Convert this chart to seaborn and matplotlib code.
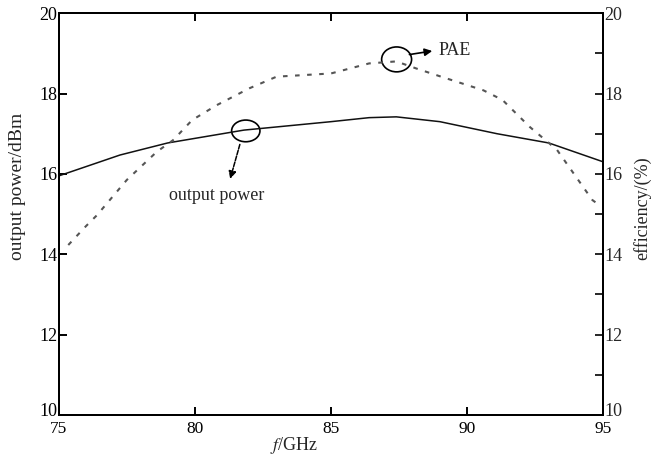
import numpy as np
import pandas as pd
import seaborn as sns
import matplotlib.pyplot as plt
import matplotlib.transforms as mtransforms
from matplotlib.patches import Ellipse
from matplotlib.ticker import MultipleLocator

# output power (dBm), left axis
freq_pout = [75.0, 77.25, 79.0, 81.8, 85.0, 86.4, 87.4, 89.0, 91.1, 93.0, 95.0]
pout = [15.95, 16.47, 16.77, 17.09, 17.3, 17.4, 17.42, 17.3, 17.0, 16.77, 16.3]

# PAE (%), right axis
freq_pae = [75.35, 76.0, 76.4, 77.5, 78.6, 79.2, 79.9, 80.8, 82.0, 83.0, 85.0,
            86.4, 87.4, 88.15, 89.0, 90.6, 91.3, 92.3, 93.3, 94.6, 94.9]
pae = [14.23, 14.7, 14.97, 15.85, 16.55, 16.84, 17.34, 17.71, 18.13, 18.42, 18.5,
       18.75, 18.8, 18.62, 18.43, 18.08, 17.84, 17.17, 16.6, 15.35, 15.2]

df_pout = pd.DataFrame({"f": freq_pout, "p": pout})
df_pae = pd.DataFrame({"f": freq_pae, "e": pae})

sns.set_style("ticks")
plt.rcParams['font.family'] = ['Liberation Serif', 'DejaVu Serif']
plt.rcParams['mathtext.fontset'] = 'stix'

fig = plt.figure(figsize=(6.6, 4.55), dpi=100)
ax = fig.add_axes([0.089, 0.088, 0.825, 0.883])
ax2 = ax.twinx()

sns.lineplot(data=df_pout, x="f", y="p", ax=ax, color="#111111", lw=1.1)
sns.lineplot(data=df_pae, x="f", y="e", ax=ax2, color="#555555", lw=1.5,
             linestyle=(0, (2.2, 3.6)))

ax.set_xlim(75, 95)
ax.set_ylim(10, 20)
ax2.set_ylim(10, 20)
ax.set_xticks([75, 80, 85, 90, 95])
ax.set_yticks([10, 12, 14, 16, 18, 20])
ax2.set_yticks([10, 12, 14, 16, 18, 20])
ax2.yaxis.set_minor_locator(MultipleLocator(1))

for a in (ax, ax2):
    for s in a.spines.values():
        s.set_linewidth(1.4)
        s.set_color("black")
ax.tick_params(axis="both", direction="in", length=6, width=1.4, labelsize=12.5,
               top=True, colors="black")
ax.tick_params(axis="x", pad=4)
ax.tick_params(axis="y", pad=1, labelsize=13)
ax2.tick_params(axis="y", which="both", direction="in", length=6, width=1.4,
                labelsize=13, pad=1)

# lift the two "10" labels a little so they sit just above "75" / "95"
lift = mtransforms.ScaledTranslation(0, 4 / 72, fig.dpi_scale_trans)
for a in (ax, ax2):
    lbl = a.yaxis.get_major_ticks()[0]
    lbl.label1.set_transform(lbl.label1.get_transform() + lift)
    lbl.label2.set_transform(lbl.label2.get_transform() + lift)

ax.set_xlabel(r"$\mathit{f}$/GHz", fontsize=13, va="center")
ax.xaxis.set_label_coords(0.432, -0.077)
ax.set_ylabel("output power/dBm", fontsize=14, ha="center", va="center")
ax.yaxis.set_label_coords(-0.076, 0.57)
ax2.set_ylabel("efficiency/(%)", fontsize=13, ha="center", va="center")
ax2.yaxis.set_label_coords(1.072, 0.515)

# annotations
ax.add_patch(Ellipse((81.87, 17.07), 1.04, 0.54, fill=False, lw=1.2, color="black"))
ax.annotate("", xy=(81.27, 15.81), xytext=(81.68, 16.8),
            arrowprops=dict(arrowstyle="-|>", color="black", lw=1.1,
                            linestyle=(0, (3, 1)), mutation_scale=11))
ax.text(80.8, 15.47, "output power", fontsize=13, ha="center", va="center")

ax2.add_patch(Ellipse((87.41, 18.85), 1.1, 0.62, fill=False, lw=1.2, color="black"))
ax2.annotate("", xy=(88.82, 19.07), xytext=(87.78, 18.96),
             arrowprops=dict(arrowstyle="-|>", color="black", lw=1.2,
                             mutation_scale=11))
ax2.text(88.94, 19.06, "PAE", fontsize=13, ha="left", va="center")

plt.savefig("out.png", dpi=100)
